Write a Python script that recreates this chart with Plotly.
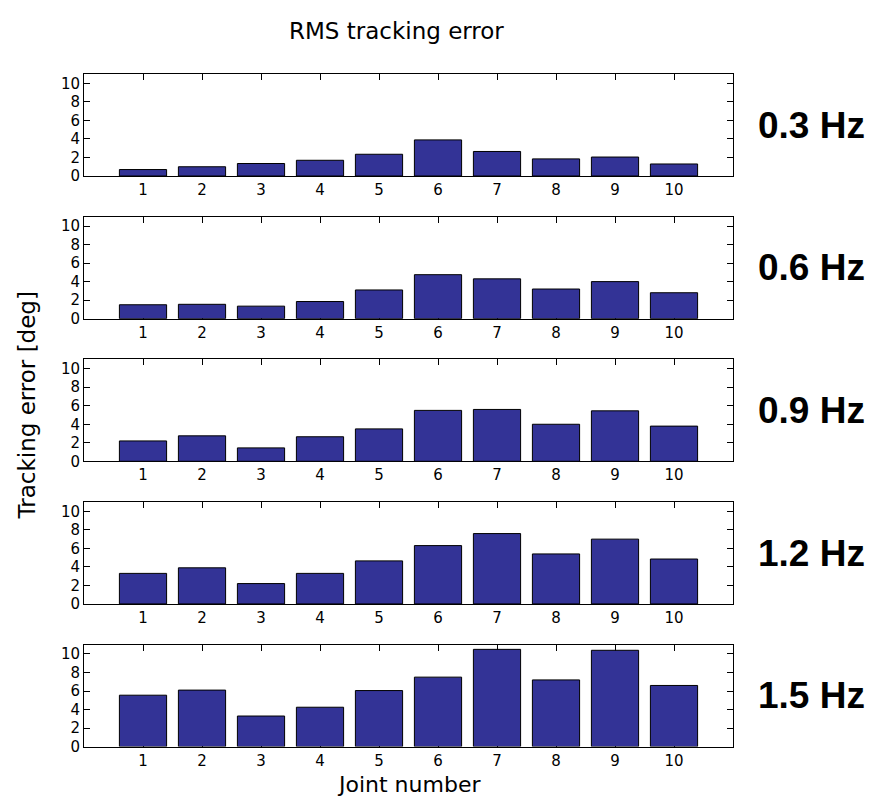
import plotly.graph_objects as go
from plotly.subplots import make_subplots

# Joint indices shared by every panel
joints = [1, 2, 3, 4, 5, 6, 7, 8, 9, 10]

# Excitation frequencies, one panel each
freq_labels = ["0.3 Hz", "0.6 Hz", "0.9 Hz", "1.2 Hz", "1.5 Hz"]

# RMS tracking error per joint [deg]
rms_03 = [0.7, 1.0, 1.35, 1.7, 2.35, 3.9, 2.65, 1.85, 2.05, 1.3]
rms_06 = [1.5, 1.55, 1.35, 1.85, 3.1, 4.75, 4.3, 3.2, 4.0, 2.8]
rms_09 = [2.2, 2.75, 1.45, 2.65, 3.5, 5.5, 5.6, 4.0, 5.45, 3.8]
rms_12 = [3.3, 3.9, 2.2, 3.3, 4.65, 6.3, 7.6, 5.4, 7.0, 4.85]
rms_15 = [5.55, 6.1, 3.3, 4.25, 6.05, 7.5, 10.5, 7.2, 10.4, 6.6]

y_ticks = [0, 2, 4, 6, 8, 10]

series = [rms_03, rms_06, rms_09, rms_12, rms_15]

W, H = 869, 807
left_px, right_px = 84, 733
panel_top0, panel_step, panel_h = 75, 144.25, 103

fig = make_subplots(rows=5, cols=1)

bar_color = "rgb(51,51,150)"
tick_font = dict(family="DejaVu Sans", size=15, color="black")

for i, vals in enumerate(series):
    row = i + 1
    fig.add_trace(
        go.Bar(
            x=joints, y=vals, width=0.8,
            marker=dict(color=bar_color, line=dict(color="black", width=1)),
            showlegend=False, hoverinfo="x+y",
        ),
        row=row, col=1,
    )
    top = panel_top0 + panel_step * i
    bottom = top + panel_h
    fig.update_xaxes(
        domain=[left_px / W, right_px / W],
        range=[0, 11], tickmode="array", tickvals=joints,
        ticks="inside", ticklen=6, tickcolor="black", tickwidth=1,
        showline=True, linecolor="black", linewidth=1, mirror="ticks",
        showgrid=False, zeroline=False, tickfont=tick_font,
        layer="below traces",
        row=row, col=1,
    )
    fig.update_yaxes(
        domain=[1 - bottom / H, 1 - top / H],
        range=[0, 11], tickmode="array", tickvals=y_ticks,
        ticks="inside", ticklen=6, tickcolor="black", tickwidth=1,
        showline=True, linecolor="black", linewidth=1, mirror="ticks",
        showgrid=False, zeroline=False, tickfont=tick_font,
        layer="below traces",
        row=row, col=1,
    )
    fig.add_annotation(
        text=freq_labels[i], xref="paper", yref="paper",
        x=756 / W, y=1 - (top + panel_h / 2) / H,
        xanchor="left", yanchor="middle", showarrow=False,
        font=dict(family="Liberation Sans", size=37, color="black", weight="bold"),
    )

# Figure-level labels
fig.add_annotation(
    text="RMS tracking error", xref="paper", yref="paper",
    x=396 / W, y=1 - 31 / H, xanchor="center", yanchor="middle",
    showarrow=False, font=dict(family="DejaVu Sans", size=23, color="black"),
)
fig.add_annotation(
    text="Joint number", xref="paper", yref="paper",
    x=408.5 / W, y=1 - 793 / H, xanchor="center", yanchor="middle",
    showarrow=False, font=dict(family="DejaVu Sans", size=22, color="black"),
)
fig.add_annotation(
    text="Tracking error [deg]", xref="paper", yref="paper",
    x=27 / W, y=1 - 410 / H, xanchor="center", yanchor="middle",
    textangle=-90, showarrow=False,
    font=dict(family="DejaVu Sans", size=23, color="black"),
)

fig.update_layout(
    width=W, height=H,
    margin=dict(l=0, r=0, t=0, b=0),
    paper_bgcolor="white", plot_bgcolor="white",
    bargap=0.2,
)

fig.write_html("out.html")
